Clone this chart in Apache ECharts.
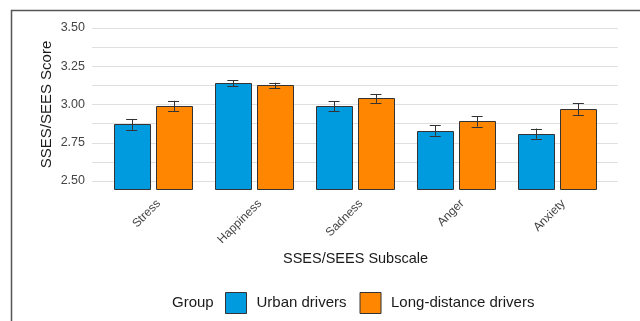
<!DOCTYPE html>
<html>
<head>
<meta charset="utf-8">
<script src="https://cdn.jsdelivr.net/npm/echarts@6/dist/echarts.min.js"></script>
<style>
  html, body { margin: 0; padding: 0; background: #ffffff; }
  #chart { width: 640px; height: 321px; }
</style>
</head>
<body>
<div id="chart"></div>
<script>
// Subscale categories and group means with standard errors
const categories = ['Stress', 'Happiness', 'Sadness', 'Anger', 'Anxiety'];
const urbanMeans = [2.87, 3.14, 2.99, 2.83, 2.81];
const urbanErrors = [0.036, 0.020, 0.033, 0.034, 0.033];
const longMeans = [2.99, 3.125, 3.04, 2.89, 2.97];
const longErrors = [0.034, 0.017, 0.029, 0.034, 0.038];
const groupNames = ['Urban drivers', 'Long-distance drivers'];
const yTickValues = [2.5, 2.75, 3.0, 3.25, 3.5];

const FONT = '"Liberation Sans", Arial, sans-serif';
const Y_FLOOR = 2.45;
const Y_CEIL = 3.55;

function makeSeriesData(means, errors) {
  return means.map((m, i) => [i, m, errors[i]]);
}

// Draws one dodged bar plus its error bar, positioned inside the category band
function barRenderer(side, fill) {
  return function (params, api) {
    const ci = api.value(0);
    const v = api.value(1);
    const e = api.value(2);
    const band = api.size([1, 0])[0];
    const w = band * 0.356;
    const top = api.coord([ci, v]);
    const base = api.coord([ci, Y_FLOOR]);
    const cx = top[0] + side * band * 0.207;
    const hi = api.coord([ci, v + e])[1];
    const lo = api.coord([ci, v - e])[1];
    const cap = 5.5;
    const ink = '#333333';
    return {
      type: 'group',
      children: [
        {
          type: 'rect',
          shape: { x: Math.round(cx - w / 2) + 0.5, y: Math.round(top[1]) + 0.5, width: Math.round(w), height: Math.round(base[1]) - Math.round(top[1]) },
          style: { fill: fill, stroke: ink, lineWidth: 1 }
        },
        {
          type: 'line',
          shape: { x1: Math.round(cx) + 0.5, y1: hi, x2: Math.round(cx) + 0.5, y2: lo },
          style: { stroke: ink, lineWidth: 1 }
        },
        {
          type: 'line',
          shape: { x1: cx - cap, y1: Math.round(hi) + 0.5, x2: cx + cap, y2: Math.round(hi) + 0.5 },
          style: { stroke: ink, lineWidth: 1 }
        },
        {
          type: 'line',
          shape: { x1: cx - cap, y1: Math.round(lo) + 0.5, x2: cx + cap, y2: Math.round(lo) + 0.5 },
          style: { stroke: ink, lineWidth: 1 }
        }
      ]
    };
  };
}

const chart = echarts.init(document.getElementById('chart'), null, { renderer: 'canvas' });

const option = {
  backgroundColor: '#ffffff',
  animation: false,
  textStyle: { fontFamily: FONT },
  grid: [
    // panel with the y scale and its gridlines
    { left: 92, right: 22, top: 28, bottom: 140, containLabel: false },
    // panel holding the bars, padded around the categories
    { left: 102, right: 32, top: 20.35, bottom: 132.35, containLabel: false },
    // same bands nudged right, carrying the slanted category labels
    { left: 108, right: 26, top: 20.35, bottom: 132.35, containLabel: false }
  ],
  xAxis: [
    { gridIndex: 0, type: 'category', data: categories, show: false },
    { gridIndex: 1, type: 'category', data: categories, boundaryGap: true, show: false },
    {
      gridIndex: 2,
      type: 'category',
      data: categories,
      boundaryGap: true,
      axisLine: { show: false },
      axisTick: { show: false },
      axisLabel: {
        rotate: 45,
        margin: 13,
        fontSize: 12,
        color: '#444444',
        fontFamily: FONT
      }
    }
  ],
  yAxis: [
    {
      gridIndex: 0,
      type: 'value',
      min: 2.5,
      max: 3.5,
      interval: 0.125,
      axisLine: { show: false },
      axisTick: { show: false },
      splitLine: { show: true, lineStyle: { color: '#e0e0e0', width: 1 } },
      axisLabel: {
        margin: 7,
        fontSize: 12.5,
        color: '#444444',
        fontFamily: FONT,
        formatter: function (v) {
          const hit = yTickValues.find(t => Math.abs(t - v) < 1e-6);
          return hit === undefined ? '' : hit.toFixed(2);
        }
      }
    },
    { gridIndex: 1, type: 'value', min: Y_FLOOR, max: Y_CEIL, show: false, splitLine: { show: false } },
    { gridIndex: 2, type: 'value', min: Y_FLOOR, max: Y_CEIL, show: false, splitLine: { show: false } }
  ],
  legend: {
    data: groupNames,
    left: 225,
    top: 292,
    padding: 0,
    orient: 'horizontal',
    icon: 'rect',
    itemWidth: 21,
    itemHeight: 21,
    itemGap: 13,
    itemStyle: { borderColor: '#333333', borderWidth: 1 },
    textStyle: { fontSize: 15, color: '#1a1a1a', fontFamily: FONT, padding: [0, 0, 0, 5] }
  },
  graphic: [
    {
      type: 'rect',
      z: -10,
      silent: true,
      shape: { x: 11.5, y: 10.5, width: 700, height: 400 },
      style: { fill: 'none', stroke: '#555555', lineWidth: 1.5 }
    },
    {
      type: 'text',
      silent: true,
      x: 172,
      y: 303,
      style: { text: 'Group', fontSize: 15, fill: '#1a1a1a', fontFamily: FONT, align: 'left', verticalAlign: 'middle' }
    },
    {
      type: 'text',
      silent: true,
      x: 355.5,
      y: 259,
      style: { text: 'SSES/SEES Subscale', fontSize: 14.5, fill: '#1a1a1a', fontFamily: FONT, align: 'center', verticalAlign: 'middle' }
    },
    {
      type: 'text',
      silent: true,
      x: 47,
      y: 104.5,
      rotation: Math.PI / 2,
      style: { text: 'SSES/SEES Score', fontSize: 15, fill: '#1a1a1a', fontFamily: FONT, align: 'center', verticalAlign: 'middle' }
    }
  ],
  series: [
    {
      name: groupNames[0],
      type: 'custom',
      xAxisIndex: 1,
      yAxisIndex: 1,
      itemStyle: { color: '#009BDF' },
      renderItem: barRenderer(-1, '#009BDF'),
      data: makeSeriesData(urbanMeans, urbanErrors)
    },
    {
      name: groupNames[1],
      type: 'custom',
      xAxisIndex: 1,
      yAxisIndex: 1,
      itemStyle: { color: '#FF8600' },
      renderItem: barRenderer(1, '#FF8600'),
      data: makeSeriesData(longMeans, longErrors)
    }
  ]
};

chart.setOption(option);
</script>
</body>
</html>
